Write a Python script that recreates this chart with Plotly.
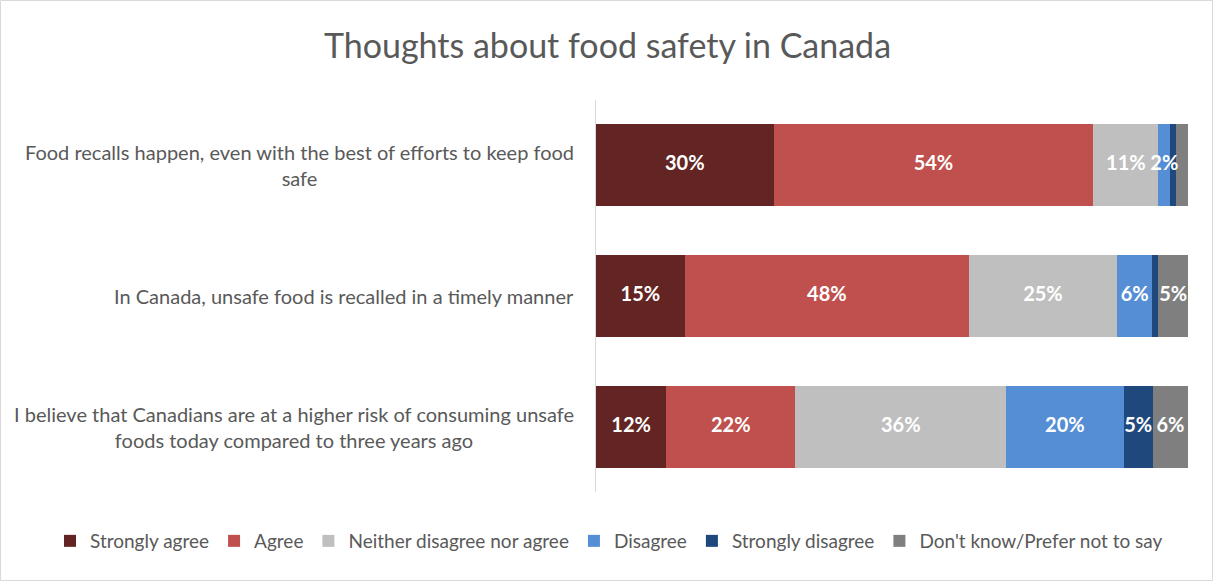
import plotly.graph_objects as go

categories = [
    "Food recalls happen, even with the best of efforts to keep food<br>safe",
    "In Canada, unsafe food is recalled in a timely manner",
    "I believe that Canadians are at a higher risk of consuming unsafe<br>foods today compared to three years ago",
]
series_names = ["Strongly agree", "Agree", "Neither disagree nor agree",
                "Disagree", "Strongly disagree", "Don't know/Prefer not to say"]
# values per series (percent), in category order
strongly_agree = [30, 15, 12]
agree = [54, 48, 22]
neither = [11, 25, 36]
disagree = [2, 6, 20]
strongly_disagree = [1, 1, 5]
dont_know = [2, 5, 6]
series_values = [strongly_agree, agree, neither, disagree, strongly_disagree, dont_know]
# which data labels are displayed in the original
label_shown = [
    [True, True, True],
    [True, True, True],
    [True, True, True],
    [True, True, True],
    [False, False, True],
    [False, True, True],
]
colors = ["#632523", "#C0504D", "#BFBFBF", "#558ED5", "#1F497D", "#7F7F7F"]

FONT = "Lato, 'Open Sans', sans-serif"
W, H = 1215, 583
ML, MR, MT, MB = 596, 27, 100, 91
PW, PH = W - ML - MR, H - MT - MB

fig = go.Figure()
for name, vals, col in zip(series_names, series_values, colors):
    fig.add_trace(go.Bar(
        name=name, y=categories, x=vals, orientation="h",
        marker=dict(color=col, line=dict(width=0)),
        hoverinfo="name+x",
    ))

# data labels on top of all bars (stack normalised to 100%)
totals = [sum(s[i] for s in series_values) for i in range(len(categories))]
lx, ly, lt = [], [], []
cum = [0] * len(categories)
for vals, shown in zip(series_values, label_shown):
    for i, v in enumerate(vals):
        mid = (cum[i] + v / 2) / totals[i] * 100
        cum[i] += v
        if shown[i]:
            lx.append(mid)
            ly.append(categories[i])
            lt.append(f"{v}%")
fig.add_trace(go.Scatter(
    x=lx, y=ly, text=lt, mode="text", textposition="middle center",
    textfont=dict(family=FONT, size=20, color="white", weight="bold"),
    showlegend=False, hoverinfo="skip", cliponaxis=False,
))

for c in categories:
    fig.add_annotation(
        x=0, xref="paper", xanchor="right", xshift=-20,
        y=c, yref="y", yanchor="middle", align="center",
        text=c, showarrow=False,
        font=dict(family=FONT, size=20, color="#595959"),
    )

fig.update_layout(
    width=W, height=H,
    margin=dict(l=ML, r=MR, t=MT, b=MB, autoexpand=False),
    barmode="stack", barnorm="percent", bargap=0.373,
    paper_bgcolor="white", plot_bgcolor="white",
    title=dict(text="Thoughts about food safety in Canada", x=0.5, xref="container",
               xanchor="center", y=1 - 46 / H, yref="container", yanchor="middle",
               font=dict(family=FONT, size=34, color="#595959")),
    xaxis=dict(range=[0, 100], showgrid=False, zeroline=False, showticklabels=False,
               showline=False, fixedrange=True),
    yaxis=dict(categoryorder="array", categoryarray=categories, range=[2.5, -0.5],
               showticklabels=False, showline=True, linecolor="#D9D9D9", linewidth=1,
               showgrid=False, zeroline=False, ticks=""),
    legend=dict(orientation="h", x=(50 - ML) / PW, xref="paper", xanchor="left",
                y=-(541 - (H - MB)) / PH, yref="paper", yanchor="middle",
                font=dict(family=FONT, size=19, color="#595959"),
                traceorder="normal", itemwidth=30),
    showlegend=True,
    shapes=[dict(type="rect", xref="paper", yref="paper",
                 x0=-(ML - 0.5) / PW, x1=1 + (MR - 2.5) / PW,
                 y0=-(MB - 2.5) / PH, y1=1 + (MT - 0.5) / PH,
                 line=dict(color="#D9D9D9", width=1), fillcolor="rgba(0,0,0,0)",
                 layer="below")],
)

fig.write_html("out.html")
